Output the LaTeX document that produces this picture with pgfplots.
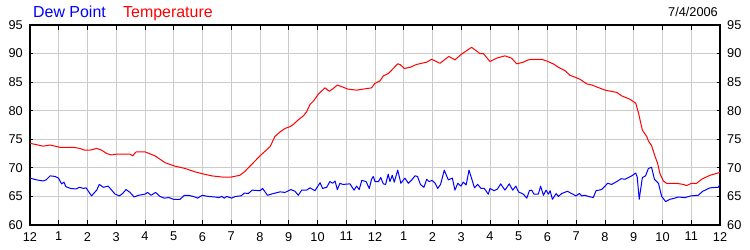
\documentclass[border=0pt]{standalone}
\usepackage{pgfplots}
\pgfplotsset{compat=1.18}
\usepackage{pgfplotstable}
\usepackage{fontspec}
\setmainfont{Liberation Sans}
\definecolor{gridgray}{RGB}{204,204,204}
\definecolor{dewblue}{RGB}{0,0,255}
\definecolor{tempred}{RGB}{255,0,0}

\pgfplotstableread{
h T
0 74.3
0.46 73.8
0.7 74.0
1.04 73.6
1.5 73.6
1.74 73.4
1.9 73.1
2.09 73.1
2.32 73.4
2.49 73.1
2.67 72.5
2.84 72.25
3.01 72.4
3.48 72.4
3.57 72.1
3.69 72.8
4.0 72.8
4.35 72.1
4.7 70.9
4.87 70.6
5.04 70.3
5.39 69.9
5.74 69.3
5.97 69.0
6.32 68.6
6.67 68.4
7.01 68.4
7.3 68.7
7.48 69.4
7.71 70.6
8.0 72.1
8.35 73.7
8.52 75.5
8.7 76.3
8.87 76.9
9.04 77.2
9.16 77.6
9.33 78.4
9.51 79.1
9.62 79.8
9.74 81.1
9.86 81.7
10.03 82.9
10.26 84.0
10.41 83.4
10.55 83.9
10.69 84.5
10.9 84.1
11.04 83.8
11.36 83.6
11.48 83.7
11.88 84.0
12.0 84.8
12.17 85.2
12.29 86.1
12.46 86.5
12.58 87.1
12.79 88.2
12.87 88.1
13.02 87.4
13.22 87.6
13.45 88.1
13.8 88.5
13.97 89.0
14.26 88.3
14.57 89.5
14.78 88.9
15.01 89.9
15.36 91.1
15.65 90.0
15.77 90.0
16.0 88.6
16.23 89.2
16.52 89.6
16.75 89.2
16.93 88.2
17.16 88.5
17.33 88.9
17.5 89.0
17.8 89.0
17.97 88.7
18.2 88.2
18.38 87.6
18.61 87.0
18.78 86.2
18.99 85.8
19.13 85.5
19.36 84.7
19.54 84.5
20.0 83.6
20.41 83.2
20.58 82.6
20.87 82.0
21.07 81.3
21.16 79.7
21.3 76.6
21.45 75.5
21.51 74.7
21.62 73.9
21.74 72.0
21.83 70.8
21.91 69.0
22.03 67.7
22.14 67.3
22.49 67.3
22.72 67.1
22.84 66.9
23.01 67.3
23.19 67.3
23.36 68.0
23.65 68.7
24.0 69.2
}\temptable

\pgfplotstableread{
h D
0 68.2
0.23 67.9
0.46 67.7
0.56 67.9
0.70 68.6
0.87 68.5
0.99 68.2
1.10 67.2
1.18 67.5
1.25 66.7
1.41 66.4
1.60 66.3
1.72 66.6
1.86 66.4
1.95 66.5
2.14 65.1
2.32 66.1
2.41 67.1
2.55 66.6
2.72 66.8
2.84 66.1
2.96 65.4
3.11 65.1
3.22 65.5
3.34 66.2
3.48 65.7
3.62 64.9
3.77 65.2
4.0 65.4
4.09 65.7
4.21 65.2
4.37 65.7
4.52 65.0
4.67 64.7
4.83 64.8
4.99 64.5
5.22 64.5
5.37 65.2
5.51 65.2
5.68 65.0
5.83 64.7
5.99 65.2
6.20 65.0
6.43 64.9
6.57 64.8
6.67 65.0
6.76 64.7
6.84 65.0
7.01 64.7
7.15 65.0
7.34 65.1
7.46 65.6
7.59 65.5
7.73 66.1
8.0 66.0
8.09 66.4
8.26 65.2
8.46 65.5
8.70 65.8
8.87 65.7
9.07 66.2
9.22 65.9
9.33 65.2
9.45 66.1
9.62 66.1
9.74 66.5
9.91 66.0
10.09 67.4
10.18 66.4
10.32 66.6
10.43 67.6
10.53 67.3
10.61 67.7
10.69 66.2
10.78 67.3
10.88 67.1
11.13 67.2
11.27 66.1
11.36 66.8
11.45 66.2
11.54 67.8
11.69 67.6
11.80 66.4
11.88 68.0
11.94 68.5
12.0 67.6
12.12 67.6
12.20 68.3
12.29 67.2
12.37 67.1
12.46 68.9
12.52 67.6
12.60 68.7
12.67 67.5
12.79 69.6
12.90 67.3
13.04 68.2
13.16 67.3
13.28 67.9
13.39 68.6
13.48 68.5
13.58 67.1
13.70 66.6
13.80 68.0
13.88 67.6
13.99 67.8
14.09 67.3
14.18 66.4
14.28 67.1
14.41 69.6
14.55 67.9
14.69 68.2
14.78 66.1
14.88 67.3
14.99 66.8
15.07 67.5
15.17 67.0
15.27 69.6
15.46 66.5
15.57 67.1
15.69 66.4
15.80 66.4
15.94 65.4
16.0 66.4
16.14 66.0
16.26 66.3
16.37 67.2
16.52 66.1
16.67 67.2
16.79 66.1
16.90 66.8
16.99 65.8
17.16 65.4
17.28 64.7
17.37 66.0
17.45 66.1
17.53 65.4
17.68 65.4
17.76 66.8
17.86 65.2
17.95 66.1
18.03 65.4
18.09 66.0
18.17 64.5
18.30 65.5
18.38 65.0
18.49 65.5
18.69 65.9
18.84 65.5
18.99 65.1
19.11 65.5
19.19 65.1
19.30 65.2
19.42 65.0
19.59 64.8
19.69 66.0
19.88 66.2
20.0 66.8
20.09 67.3
20.23 67.1
20.41 67.6
20.56 68.1
20.70 68.0
20.81 68.3
20.93 68.6
21.07 69.1
21.12 68.4
21.19 64.5
21.30 68.3
21.41 68.6
21.51 69.9
21.62 70.1
21.72 68.0
21.86 67.3
21.97 65.0
22.11 64.1
22.26 64.5
22.43 64.7
22.55 64.9
22.78 64.8
22.99 65.1
23.24 65.2
23.40 65.9
23.65 66.5
23.94 66.6
24.0 67.1
}\dewtable

\begin{document}
\begin{tikzpicture}[x=1bp,y=1bp]
\useasboundingbox (-30bp,-25bp) rectangle (720bp,225bp);
\begin{axis}[
  at={(0,0)}, anchor=south west,
  scale only axis, width=690bp, height=200bp,
  xmin=0, xmax=24, ymin=60, ymax=95,
  xtick={0,1,...,24},
  xticklabels={12,1,2,3,4,5,6,7,8,9,10,11,12,1,2,3,4,5,6,7,8,9,10,11,12},
  ytick={60,65,...,95},
  grid=major,
  major grid style={gridgray, line width=0.8bp},
  axis line style={black, line width=1.2bp},
  tick align=inside,
  tick pos=both,
  xtick style={black, line width=1bp, /pgfplots/major tick length=5bp},
  ytick style={black, line width=1bp, /pgfplots/major tick length=3bp},
  ticklabel style={font=\fontsize{12.8}{14}\selectfont, inner sep=0pt, text=black},
  /pgf/number format/assume math mode=true,
  xticklabel shift=7bp,
  yticklabel shift=7bp,
  axis on top=false,
]
\addplot[tempred, line width=1bp, line join=round] table[x=h,y=T] {\temptable};
\addplot[dewblue, line width=1bp, line join=round] table[x=h,y=D] {\dewtable};
\end{axis}
\begin{axis}[
  at={(0,0)}, anchor=south west,
  scale only axis, width=690bp, height=200bp,
  xmin=0, xmax=24, ymin=60, ymax=95,
  xtick=\empty,
  ytick={60,65,...,95},
  yticklabel pos=right,
  axis line style={draw=none},
  major tick length=0pt,
  ticklabel style={font=\fontsize{12.8}{14}\selectfont, inner sep=0pt, text=black},
  /pgf/number format/assume math mode=true,
  yticklabel shift=7bp,
]
\end{axis}
\node[anchor=base west, inner sep=0pt, text=dewblue, font=\fontsize{16}{18}\selectfont] at (3bp,207bp) {Dew Point};
\node[anchor=base west, inner sep=0pt, text=tempred, font=\fontsize{16}{18}\selectfont] at (93bp,207bp) {Temperature};
\node[anchor=base east, inner sep=0pt, text=black, font=\fontsize{12.8}{14}\selectfont] at (688bp,208bp) {7/4/2006};
\end{tikzpicture}
\end{document}
